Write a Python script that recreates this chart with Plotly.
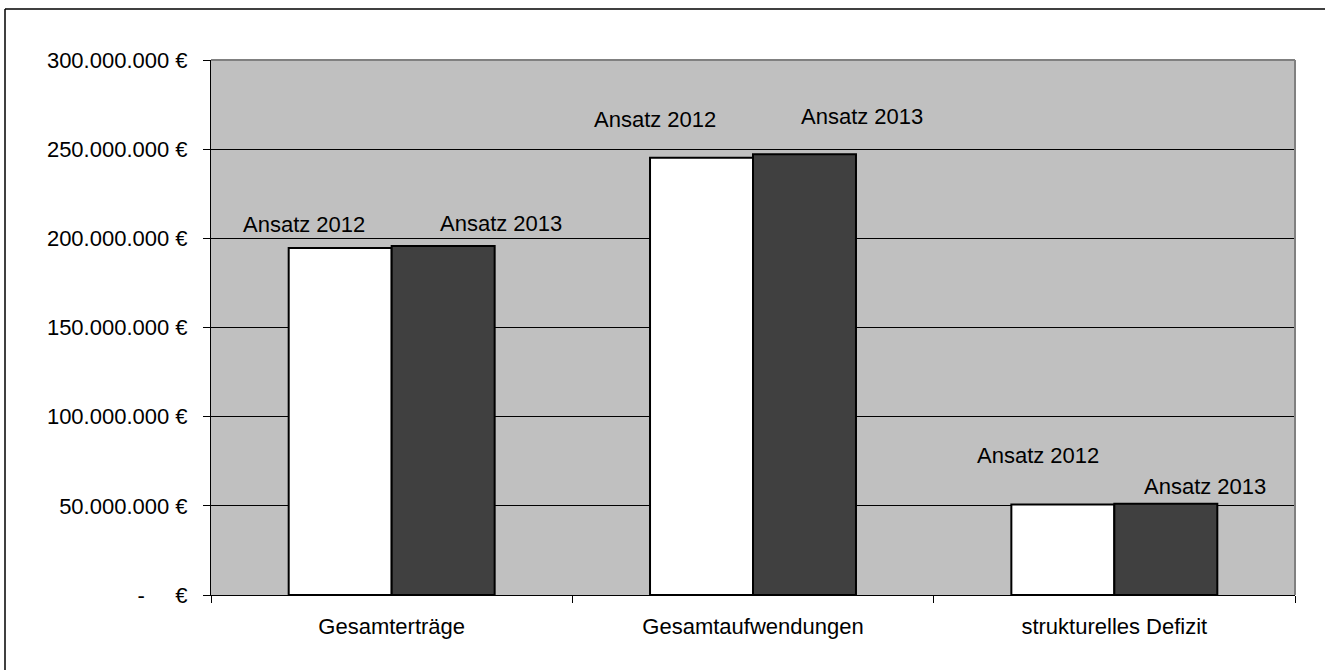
import plotly.graph_objects as go

categories = ["Gesamterträge", "Gesamtaufwendungen", "strukturelles Defizit"]
series_names = ["Ansatz 2012", "Ansatz 2013"]
values_2012 = [194.6e6, 245.2e6, 50.7e6]
values_2013 = [195.7e6, 247.1e6, 51.2e6]
tick_values = [0, 50e6, 100e6, 150e6, 200e6, 250e6, 300e6]
tick_labels = ["-\u00a0\u00a0\u00a0\u00a0\u00a0€", "50.000.000 €", "100.000.000 €", "150.000.000 €",
               "200.000.000 €", "250.000.000 €", "300.000.000 €"]

W, H = 1325, 670
ML, MR, MT, MB = 211, 30, 60, 75
FONT = "Liberation Sans, Arial, sans-serif"
FS = 22

fig = go.Figure()
fig.add_trace(go.Bar(x=categories, y=values_2012, name=series_names[0],
                     marker=dict(color="#FFFFFF", line=dict(color="#000000", width=2))))
fig.add_trace(go.Bar(x=categories, y=values_2013, name=series_names[1],
                     marker=dict(color="#404040", line=dict(color="#000000", width=2))))

# label placement offsets (pixels): (xshift from category center, yshift from bar top)
label_offsets = [
    [(-88, 23), (109, 23)],
    [(-98, 38), (109, 38)],
    [(-76, 49), (91, 17)],
]
for i, cat in enumerate(categories):
    for j, vals in enumerate([values_2012, values_2013]):
        dx, dy = label_offsets[i][j]
        fig.add_annotation(x=cat, y=vals[i], xref="x", yref="y", text=series_names[j],
                           showarrow=False, xshift=dx, yshift=dy, yanchor="middle",
                           font=dict(family=FONT, size=FS, color="#000000"))

pw = W - ML - MR
ph = H - MT - MB
# outer frame (top and left edges visible); page coords x=5, y=9
fx0 = (5 - ML) / pw
fy1 = 1 + (MT - 9) / ph
fig.add_shape(type="line", xref="paper", yref="paper", x0=fx0, x1=(W + 10 - ML) / pw, y0=fy1, y1=fy1,
              line=dict(color="#000000", width=1.5), layer="above")
fig.add_shape(type="line", xref="paper", yref="paper", x0=fx0, x1=fx0, y0=fy1, y1=-(MB + 10) / ph,
              line=dict(color="#000000", width=1.5), layer="above")
# plot area border top/right (grey)
fig.add_shape(type="line", xref="paper", yref="paper", x0=0, x1=1, y0=1, y1=1,
              line=dict(color="#808080", width=2), layer="above")
fig.add_shape(type="line", xref="paper", yref="paper", x0=1, x1=1, y0=0, y1=1,
              line=dict(color="#808080", width=2), layer="above")

fig.update_layout(
    width=W, height=H,
    margin=dict(l=ML, r=MR, t=MT, b=MB, pad=0),
    paper_bgcolor="#FFFFFF", plot_bgcolor="#C0C0C0",
    barmode="group", bargap=0.43, bargroupgap=0,
    showlegend=False,
    font=dict(family=FONT, size=FS, color="#000000"),
    xaxis=dict(type="category", showline=True, linecolor="#000000", linewidth=1,
               ticks="outside", tickson="boundaries", ticklen=7, tickcolor="#000000",
               showgrid=False, ticklabelstandoff=12, tickfont=dict(family=FONT, size=FS)),
    yaxis=dict(range=[0, 300e6], tickvals=tick_values, ticktext=tick_labels,
               showline=True, linecolor="#000000", linewidth=1,
               ticks="outside", ticklen=7, tickcolor="#000000",
               showgrid=True, gridcolor="#000000", gridwidth=1, zeroline=False,
               ticklabelstandoff=11, tickfont=dict(family=FONT, size=FS)),
)

fig.write_html("out.html", config={"displayModeBar": False},
               post_script="document.body.style.margin='0';document.body.style.overflow='hidden';")
